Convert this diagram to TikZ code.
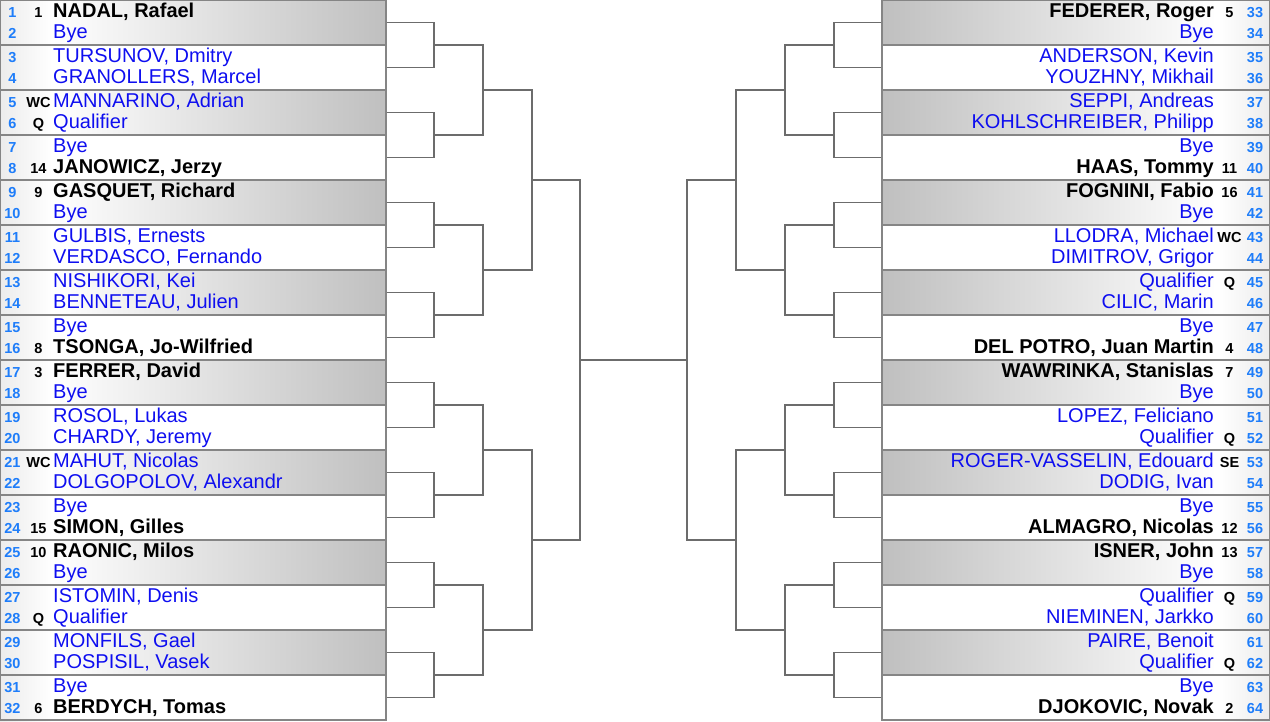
\documentclass[tikz,border=0pt]{standalone}
\usepackage{fontspec}
\setmainfont{Liberation Sans}
\usepackage{tikz}

\definecolor{nameblue}{RGB}{14,14,240}
\definecolor{drawblue}{RGB}{30,125,250}
\definecolor{bracketgray}{RGB}{108,108,108}
\definecolor{stripgray}{RGB}{236,236,236}

\begin{document}
\begin{tikzpicture}[x=1pt,y=-1pt,
  slot/.style={rectangle,draw=black!48,line width=1.2pt,
               minimum width=386pt,minimum height=45pt,inner sep=0pt},
  rslot/.style={slot,minimum width=388pt},
  brk/.style={draw=bracketgray,line width=1.7pt},
  plname/.style={text=nameblue,font=\fontsize{20}{22}\selectfont,inner sep=0pt},
  sdname/.style={text=black,font=\bfseries\fontsize{20}{22}\selectfont,inner sep=0pt},
  seed/.style={text=black,font=\bfseries\fontsize{14.5}{16}\selectfont,
               inner sep=0pt,anchor=base},
  slotno/.style={text=drawblue,font=\bfseries\fontsize{14.5}{16}\selectfont,
                 inner sep=0pt,anchor=base}
]
\useasboundingbox (0,0) rectangle (1270,721);

% shaded match slots
\fill[left color=stripgray,right color=white] (0,0) rectangle (52,721);
\fill[left color=white,right color=stripgray] (1218,0) rectangle (1270,721);
\foreach \i in {1,3,...,15} {
  \fill[left color=white,right color=gray!50] (52,45*\i-45) rectangle (386,45*\i);
  \fill[left color=gray!50,right color=white] (882,45*\i-45) rectangle (1216,45*\i);
}
\foreach \i in {1,...,16} {
  \node[slot]  (L\i) at (193,45*\i-22.5) {};
  \node[rslot] (R\i) at (1076,45*\i-22.5) {};
}

% first round
\foreach \k [evaluate=\k as \u using int(2*\k-1),
             evaluate=\k as \v using int(2*\k)] in {1,...,8} {
  \coordinate (La\k) at (434,90*\k-45);
  \coordinate (Ra\k) at (834,90*\k-45);
  \draw[brk] (L\u.east) -| (La\k) |- (L\v.east);
  \draw[brk] (R\u.west) -| (Ra\k) |- (R\v.west);
}
% second round
\foreach \k [evaluate=\k as \u using int(2*\k-1),
             evaluate=\k as \v using int(2*\k)] in {1,...,4} {
  \coordinate (Lb\k) at (483,180*\k-90);
  \coordinate (Rb\k) at (785,180*\k-90);
  \draw[brk] (La\u) -| (Lb\k) |- (La\v);
  \draw[brk] (Ra\u) -| (Rb\k) |- (Ra\v);
}
% quarters
\foreach \k [evaluate=\k as \u using int(2*\k-1),
             evaluate=\k as \v using int(2*\k)] in {1,2} {
  \coordinate (Lc\k) at (532,360*\k-180);
  \coordinate (Rc\k) at (736,360*\k-180);
  \draw[brk] (Lb\u) -| (Lc\k) |- (Lb\v);
  \draw[brk] (Rb\u) -| (Rc\k) |- (Rb\v);
}
% semis and final
\coordinate (Ld) at (580,360);
\coordinate (Rd) at (687,360);
\draw[brk] (Lc1) -| (Ld) |- (Lc2);
\draw[brk] (Rc1) -| (Rd) |- (Rc2);
\draw[brk] (Ld) -- (Rd);

% top half of the draw
\foreach \n/\sd/\kind/\who in {
  1/1/sdname/{NADAL, Rafael}, 2//plname/Bye,
  3//plname/{TURSUNOV, Dmitry}, 4//plname/{GRANOLLERS, Marcel},
  5/WC/plname/{MANNARINO, Adrian}, 6/Q/plname/Qualifier,
  7//plname/Bye, 8/14/sdname/{JANOWICZ, Jerzy},
  9/9/sdname/{GASQUET, Richard}, 10//plname/Bye,
  11//plname/{GULBIS, Ernests}, 12//plname/{VERDASCO, Fernando},
  13//plname/{NISHIKORI, Kei}, 14//plname/{BENNETEAU, Julien},
  15//plname/Bye, 16/8/sdname/{TSONGA, Jo-Wilfried},
  17/3/sdname/{FERRER, David}, 18//plname/Bye,
  19//plname/{ROSOL, Lukas}, 20//plname/{CHARDY, Jeremy},
  21/WC/plname/{MAHUT, Nicolas}, 22//plname/{DOLGOPOLOV, Alexandr},
  23//plname/Bye, 24/15/sdname/{SIMON, Gilles},
  25/10/sdname/{RAONIC, Milos}, 26//plname/Bye,
  27//plname/{ISTOMIN, Denis}, 28/Q/plname/Qualifier,
  29//plname/{MONFILS, Gael}, 30//plname/{POSPISIL, Vasek},
  31//plname/Bye, 32/6/sdname/{BERDYCH, Tomas}} {
  \pgfmathsetmacro\yb{22.5*(\n-1)+15.5+2*mod(\n,2)}
  \node[slotno] (d\n) at (12.5,\yb) {\n};
  \node[seed] (s\n) at (38.5,\yb) {\sd};
  \node[\kind,anchor=base west] (p\n) at (53,\yb) {\who};
}
% bottom half of the draw
\foreach \n/\sd/\kind/\who in {
  33/5/sdname/{FEDERER, Roger}, 34//plname/Bye,
  35//plname/{ANDERSON, Kevin}, 36//plname/{YOUZHNY, Mikhail},
  37//plname/{SEPPI, Andreas}, 38//plname/{KOHLSCHREIBER, Philipp},
  39//plname/Bye, 40/11/sdname/{HAAS, Tommy},
  41/16/sdname/{FOGNINI, Fabio}, 42//plname/Bye,
  43/WC/plname/{LLODRA, Michael}, 44//plname/{DIMITROV, Grigor},
  45/Q/plname/Qualifier, 46//plname/{CILIC, Marin},
  47//plname/Bye, 48/4/sdname/{DEL POTRO, Juan Martin},
  49/7/sdname/{WAWRINKA, Stanislas}, 50//plname/Bye,
  51//plname/{LOPEZ, Feliciano}, 52/Q/plname/Qualifier,
  53/SE/plname/{ROGER-VASSELIN, Edouard}, 54//plname/{DODIG, Ivan},
  55//plname/Bye, 56/12/sdname/{ALMAGRO, Nicolas},
  57/13/sdname/{ISNER, John}, 58//plname/Bye,
  59/Q/plname/Qualifier, 60//plname/{NIEMINEN, Jarkko},
  61//plname/{PAIRE, Benoit}, 62/Q/plname/Qualifier,
  63//plname/Bye, 64/2/sdname/{DJOKOVIC, Novak}} {
  \pgfmathsetmacro\yb{22.5*(\n-33)+15.5+2*mod(\n,2)}
  \node[slotno] (d\n) at (1255,\yb) {\n};
  \node[seed] (s\n) at (1229.5,\yb) {\sd};
  \node[\kind,anchor=base east] (p\n) at (1214,\yb) {\who};
}
\end{tikzpicture}
\end{document}
